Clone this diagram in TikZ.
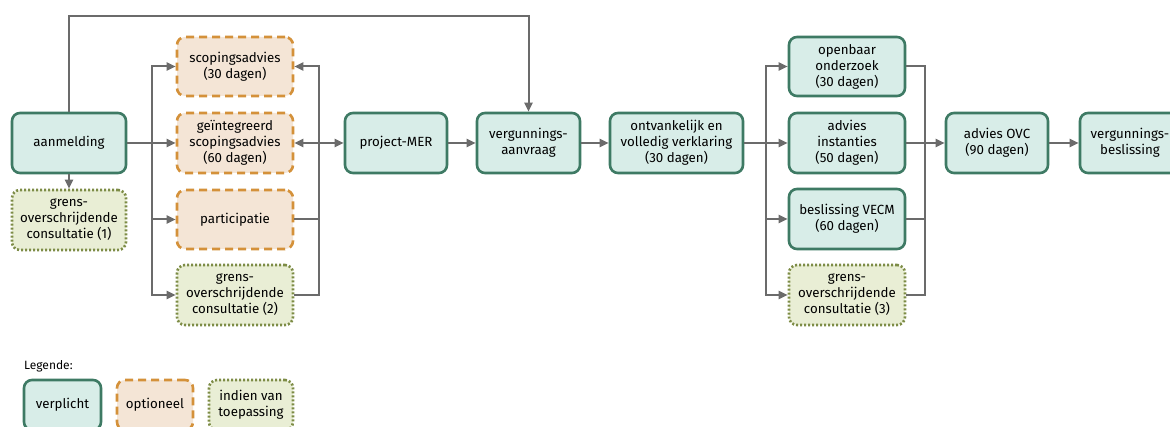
\documentclass[tikz,border=0pt]{standalone}
\usepackage{fontspec}
\setmainfont{Fira Sans}
\usetikzlibrary{arrows.meta}
\definecolor{vgreen}{HTML}{3E7A64}
\definecolor{vfill}{HTML}{D8EDE8}
\definecolor{oorange}{HTML}{D4913A}
\definecolor{ofill}{HTML}{F4E5D6}
\definecolor{iolive}{HTML}{7D8C46}
\definecolor{ifill}{HTML}{E9EED5}
\definecolor{conncol}{HTML}{6B6B6B}
\begin{document}
\begin{tikzpicture}[x=1pt,y=-1pt,
  box/.style={rounded corners=8pt, line width=2.6pt, minimum height=60pt, align=center,
    font=\fontsize{13.3}{16}\selectfont, inner sep=2pt},
  verplicht/.style={box, draw=vgreen, fill=vfill},
  optioneel/.style={box, draw=oorange, fill=ofill, dash pattern=on 8pt off 5pt},
  indien/.style={box, draw=iolive, fill=ifill, dash pattern=on 2pt off 2pt},
  conn/.style={draw=conncol, line width=2pt},
  arr/.style={conn, -{Triangle[length=9pt,width=8pt]}}]
\clip (0,0) rectangle (1170,427);
\fill[white] (0,0) rectangle (1170,427);
% nodes
\node[verplicht, minimum width=114pt] (aan) at (69,143) {aanmelding};
\node[indien, minimum width=114pt] (g1) at (69,220) {grens-\\overschrijdende\\consultatie (1)};
\node[optioneel, minimum width=116pt, minimum height=59pt] (sc) at (235,66.5) {scopingsadvies\\(30 dagen)};
\node[optioneel, minimum width=116pt] (gi) at (235,143) {geïntegreerd\\scopingsadvies\\(60 dagen)};
\node[optioneel, minimum width=116pt, minimum height=59pt] (pa) at (235,219.5) {participatie};
\node[indien, minimum width=116pt] (g2) at (235,295) {grens-\\overschrijdende\\consultatie (2)};
\node[verplicht, minimum width=102pt] (mer) at (396,143) {project-MER};
\node[verplicht, minimum width=103pt] (va) at (528.5,143) {vergunnings-\\aanvraag};
\node[verplicht, minimum width=133pt] (ov) at (676.5,143) {ontvankelijk en\\volledig verklaring\\(30 dagen)};
\node[verplicht, minimum width=116pt, minimum height=59pt] (oo) at (847,66.5) {openbaar\\onderzoek\\(30 dagen)};
\node[verplicht, minimum width=116pt] (ai) at (847,143) {advies\\instanties\\(50 dagen)};
\node[verplicht, minimum width=116pt] (bv) at (847,219) {beslissing VECM\\(60 dagen)};
\node[indien, minimum width=116pt] (g3) at (847,295) {grens-\\overschrijdende\\consultatie (3)};
\node[verplicht, minimum width=102pt] (ovc) at (997,143) {advies OVC\\(90 dagen)};
\node[verplicht, minimum width=100pt] (vb) at (1130,143) {vergunnings-\\beslissing};
% connectors
\coordinate (top) at (300,16);
\draw[arr] (aan.north) |- (top) -| (va.north);
\draw[arr] (aan.south) -- (g1.north);
\coordinate (b1) at (152,143);
\draw[conn] (aan.east) -- (b1);
\draw[arr] (b1) -- (gi.west);
\draw[arr] (b1) |- (sc.west);
\draw[arr] (b1) |- (pa.west);
\draw[arr] (b1) |- (g2.west);
\coordinate (b2) at (319,143);
\draw[arr] (b2) |- (sc.east);
\draw[arr] (b2) -- (gi.east);
\draw[arr] (b2) -- (mer.west);
\draw[conn] (pa.east) -| (b2);
\draw[conn] (g2.east) -| (b2);
\draw[arr] (mer.east) -- (va.west);
\draw[arr] (va.east) -- (ov.west);
\coordinate (b3) at (766,143);
\draw[conn] (ov.east) -- (b3);
\draw[arr] (b3) |- (oo.west);
\draw[arr] (b3) -- (ai.west);
\draw[arr] (b3) |- (bv.west);
\draw[arr] (b3) |- (g3.west);
\coordinate (b4) at (925,143);
\draw[conn] (oo.east) -| (b4);
\draw[conn] (bv.east) -| (b4);
\draw[conn] (g3.east) -| (b4);
\draw[arr] (ai.east) -- (ovc.west);
\draw[arr] (ovc.east) -- (vb.west);
% legend
\node[anchor=west, inner sep=0pt, font=\fontsize{12}{14}\selectfont] (leg) at (24,366) {Legende:};
\node[verplicht, minimum width=77pt, minimum height=50pt] (l1) at (62.5,405) {verplicht};
\node[optioneel, minimum width=76pt, minimum height=50pt] (l2) at (155,405) {optioneel};
\node[indien, minimum width=84pt, minimum height=50pt] (l3) at (251,405) {indien van\\toepassing};
\end{tikzpicture}
\end{document}
